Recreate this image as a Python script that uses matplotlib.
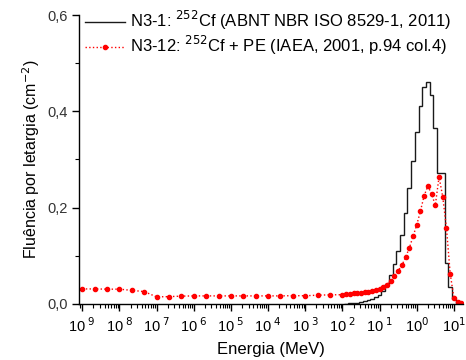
import numpy as np
import matplotlib
matplotlib.use('Agg')
import matplotlib.pyplot as plt
from matplotlib.ticker import FixedLocator, FixedFormatter, LogLocator, MultipleLocator, NullFormatter

plt.rcParams['font.family'] = ['Liberation Sans', 'DejaVu Sans']

# N3-1: 252Cf (ISO 8529-1), histogram in lethargy, bin edges in log10(MeV)
cf_edges_log = [-1.95, -1.85, -1.75, -1.65, -1.55, -1.45, -1.35, -1.25, -1.15, -1.05,
                -0.95, -0.85, -0.75, -0.65, -0.55, -0.45, -0.35, -0.25, -0.15, -0.05,
                0.05, 0.15, 0.25, 0.35, 0.45, 0.55, 0.65, 0.75, 0.85, 0.95,
                1.05, 1.15, 1.25]
cf_values = [0.000, 0.001, 0.002, 0.002, 0.003, 0.005, 0.008, 0.011, 0.014, 0.019,
             0.026, 0.041, 0.060, 0.082, 0.109, 0.143, 0.188, 0.240, 0.297, 0.357,
             0.412, 0.450, 0.460, 0.433, 0.366, 0.271, 0.271, 0.084, 0.035, 0.010,
             0.002, 0.000]

# N3-12: 252Cf + PE (IAEA 2001), points in log10(MeV)
pe_low_log = [-9.0, -8.667, -8.333, -8.0, -7.667, -7.333, -7.0, -6.667, -6.333, -6.0,
              -5.667, -5.333, -5.0, -4.667, -4.333, -4.0, -3.667, -3.333, -3.0, -2.667,
              -2.333]
pe_low_values = [0.031, 0.031, 0.0305, 0.0305, 0.028, 0.0255, 0.0145, 0.015, 0.016, 0.0165,
                 0.0165, 0.0165, 0.0165, 0.0165, 0.0165, 0.0165, 0.0165, 0.017, 0.0168, 0.018,
                 0.0187]
pe_high_log = [-2.0, -1.9, -1.8, -1.7, -1.6, -1.5, -1.4, -1.3, -1.2, -1.1,
               -1.0, -0.9, -0.8, -0.7, -0.6, -0.5, -0.4, -0.3, -0.2, -0.1,
               0.0, 0.1, 0.2, 0.3, 0.4, 0.5, 0.6, 0.7, 0.8, 0.9,
               1.0, 1.1, 1.2]
pe_high_values = [0.019, 0.020, 0.021, 0.022, 0.023, 0.023, 0.024, 0.025, 0.027, 0.028,
                  0.030, 0.034, 0.040, 0.048, 0.058, 0.069, 0.080, 0.097, 0.116, 0.140,
                  0.164, 0.193, 0.225, 0.245, 0.228, 0.205, 0.264, 0.222, 0.157, 0.063,
                  0.012, 0.004, 0.002]

label_cf = 'N3-1: $^{252}$Cf (ABNT NBR ISO 8529-1, 2011)'
label_pe = 'N3-12: $^{252}$Cf + PE (IAEA, 2001, p.94 col.4)'

xtick_exps = [-9, -8, -7, -6, -5, -4, -3, -2, -1, 0, 1]
xtick_labels = ['10$^{\\ 9}$', '10$^{\\ 8}$', '10$^{\\ 7}$', '10$^{\\ 6}$', '10$^{\\ 5}$',
                '10$^{\\ 4}$', '10$^{\\ 3}$', '10$^{\\ 2}$', '10$^{\\ 1}$', '10$^{0}$', '10$^{1}$']

cf_edges = 10.0 ** np.array(cf_edges_log)
pe_energy = 10.0 ** np.array(pe_low_log + pe_high_log)
pe_values = np.array(pe_low_values + pe_high_values)

fig = plt.figure(figsize=(4.66, 3.6), dpi=100)
ax = fig.add_axes([0.170, 0.156, 0.824, 0.802])

ax.stairs(cf_values, cf_edges, color='#1a1a1a', lw=1.0, label=label_cf)
ax.plot(pe_energy, pe_values, color='red', ls=':', lw=1.0, marker='o', ms=3.0,
        mec='red', mfc='red', label=label_pe)

ax.set_xscale('log')
ax.set_xlim(10 ** -9.08, 10 ** 1.25)
ax.set_ylim(0, 0.6)

ax.xaxis.set_major_locator(FixedLocator([10.0 ** e for e in xtick_exps]))
ax.xaxis.set_major_formatter(FixedFormatter(xtick_labels))
ax.xaxis.set_minor_locator(LogLocator(base=10, subs=np.arange(2, 10), numticks=30))
ax.xaxis.set_minor_formatter(NullFormatter())

ax.yaxis.set_major_locator(MultipleLocator(0.2))
ax.yaxis.set_minor_locator(MultipleLocator(0.1))
ax.yaxis.set_major_formatter(plt.FuncFormatter(lambda v, p: f'{v:.1f}'.replace('.', ',')))

ax.tick_params(which='major', direction='out', length=5, width=1, labelsize=10.5, colors='black')
ax.tick_params(which='minor', direction='out', length=3, width=0.8)
ax.tick_params(axis='y', labelcolor='#333333', pad=3)
ax.tick_params(axis='x', labelcolor='black', pad=4)

for side in ['top', 'right']:
    ax.spines[side].set_visible(False)
for side in ['left', 'bottom']:
    ax.spines[side].set_linewidth(1.0)

ax.set_xlabel('Energia (MeV)', fontsize=12, labelpad=5)
ax.set_ylabel('Fluência por letargia (cm$^{-2}$)', fontsize=11.5, labelpad=4)

ax.legend(loc='upper left', bbox_to_anchor=(-0.012, 1.055), frameon=False, fontsize=12,
          handlelength=2.4, handletextpad=0.3, labelspacing=0.12, borderaxespad=0.2)

fig.savefig('out.png', dpi=100)
